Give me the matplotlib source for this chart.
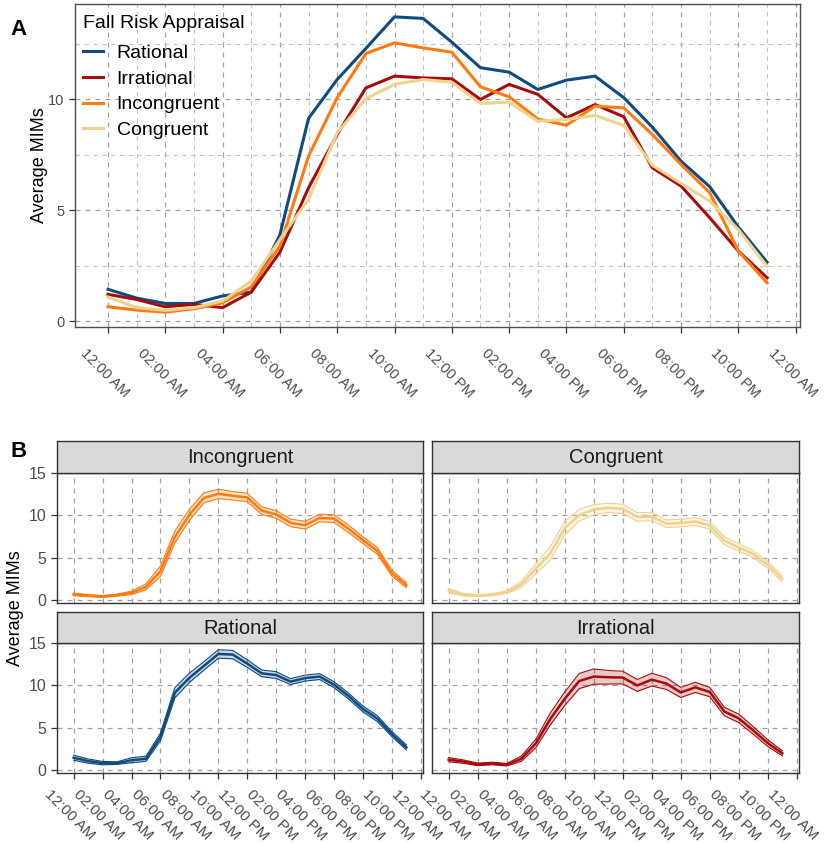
import matplotlib
matplotlib.use("Agg")
import matplotlib.pyplot as plt
from matplotlib.transforms import ScaledTranslation

plt.rcParams['font.family'] = ['Liberation Sans', 'DejaVu Sans']

# hourly averages (hour of day 0..23)
hours = list(range(24))
tick_hours = list(range(0, 25, 2))
tick_labels = ["12:00 AM", "02:00 AM", "04:00 AM", "06:00 AM", "08:00 AM", "10:00 AM",
               "12:00 PM", "02:00 PM", "04:00 PM", "06:00 PM", "08:00 PM", "10:00 PM", "12:00 AM"]

groups = ["Rational", "Irrational", "Incongruent", "Congruent"]
colors = {"Rational": "#0F4A80", "Irrational": "#A50D0D",
          "Incongruent": "#FF7A10", "Congruent": "#F0D28F"}

rational = [1.45, 1.05, 0.81, 0.81, 1.15, 1.32, 3.9, 9.15, 10.9, 12.3, 13.72, 13.65,
            12.58, 11.43, 11.23, 10.45, 10.87, 11.05, 10.08, 8.75, 7.22, 6.07, 4.25, 2.67]
irrational = [1.22, 0.99, 0.66, 0.77, 0.62, 1.32, 3.12, 6.02, 8.42, 10.52, 11.05, 10.97,
              10.93, 10.0, 10.68, 10.23, 9.17, 9.77, 9.22, 6.92, 6.1, 4.67, 3.17, 1.97]
incongruent = [0.66, 0.51, 0.42, 0.57, 0.84, 1.56, 3.39, 7.45, 10.08, 12.07, 12.55, 12.32,
               12.13, 10.57, 10.12, 9.12, 8.84, 9.7, 9.62, 8.42, 7.07, 5.8, 3.17, 1.74]
congruent = [1.1, 0.62, 0.5, 0.62, 0.92, 1.82, 3.69, 5.5, 8.5, 10.03, 10.68, 10.9,
             10.78, 9.82, 9.88, 9.02, 9.1, 9.28, 8.83, 7.03, 6.22, 5.42, 4.14, 2.49]

# half width of the confidence band (panel B)
rational_ci = [0.3, 0.25, 0.2, 0.15, 0.3, 0.3, 0.45, 0.6, 0.55, 0.5, 0.5, 0.5,
               0.45, 0.4, 0.4, 0.35, 0.35, 0.35, 0.35, 0.35, 0.35, 0.35, 0.3, 0.3]
irrational_ci = [0.25, 0.2, 0.15, 0.15, 0.15, 0.3, 0.5, 0.7, 0.8, 0.9, 0.9, 0.8,
                 0.75, 0.7, 0.75, 0.7, 0.6, 0.6, 0.55, 0.5, 0.5, 0.45, 0.4, 0.3]
incongruent_ci = [0.15, 0.12, 0.1, 0.12, 0.2, 0.35, 0.6, 0.7, 0.65, 0.6, 0.55, 0.5,
                  0.5, 0.45, 0.45, 0.45, 0.45, 0.45, 0.45, 0.45, 0.4, 0.4, 0.35, 0.3]
congruent_ci = [0.25, 0.15, 0.12, 0.12, 0.15, 0.35, 0.6, 0.8, 0.8, 0.7, 0.6, 0.55,
                0.55, 0.5, 0.5, 0.45, 0.45, 0.45, 0.45, 0.45, 0.45, 0.4, 0.4, 0.35]

means = {"Rational": rational, "Irrational": irrational,
         "Incongruent": incongruent, "Congruent": congruent}
cis = {"Rational": rational_ci, "Irrational": irrational_ci,
       "Incongruent": incongruent_ci, "Congruent": congruent_ci}

W, H = 830, 843
fig = plt.figure(figsize=(W / 100, H / 100), dpi=100)


def box(x0, y0, x1, y1):
    return [x0 / W, 1 - y1 / H, (x1 - x0) / W, (y1 - y0) / H]


dash = (0, (4, 4))
major_grid = dict(color="#A0A0A0", linewidth=0.9, linestyle=dash)
minor_grid = dict(color="#C4C4C4", linewidth=0.8, linestyle=dash)


def style_axes(ax, minor=True):
    ax.set_xlim(-1.15, 24.15)
    ax.set_axisbelow(True)
    for s in ax.spines.values():
        s.set_color("#4D4D4D")
        s.set_linewidth(1.0)
    ax.set_xticks(tick_hours)
    ax.grid(True, which="major", **major_grid)
    if minor:
        ax.set_xticks(range(1, 24, 2), minor=True)
        ax.grid(True, which="minor", **minor_grid)
        ax.tick_params(which="minor", length=0)
    ax.tick_params(axis="both", which="major", colors="#333333", labelcolor="#4D4D4D",
                   length=4, width=0.9)


def shift_labels(ax, dx):
    off = ScaledTranslation(dx / 100, 0, fig.dpi_scale_trans)
    for lab in ax.get_xticklabels():
        lab.set_transform(lab.get_transform() + off)


# ---------- Panel A ----------
axA = fig.add_axes(box(75, 4, 800, 327))
style_axes(axA)
axA.set_ylim(-0.25, 14.3)
axA.set_yticks([0, 5, 10])
axA.set_yticks([2.5, 7.5, 12.5], minor=True)
for g in groups:
    axA.plot(hours, means[g], color=colors[g], lw=2.2, label=g)
axA.set_xticklabels(tick_labels, rotation=-45, ha="center", va="top", fontsize=10.5)
axA.tick_params(axis="x", pad=10)
axA.tick_params(axis="y", labelsize=10.5)
shift_labels(axA, -3)
axA.set_ylabel("Average MIMs", fontsize=13, labelpad=0)
leg = axA.legend(title="Fall Risk Appraisal", loc="upper left",
                 bbox_to_anchor=(-2 / 725, 1 - 1 / 323),
                 frameon=False, fontsize=14, title_fontsize=14, handlelength=1.05,
                 handletextpad=0.7, labelspacing=0.42, borderpad=0.0, alignment="left")
leg._legend_box.sep = 9
fig.text(10 / W, 1 - 35 / H, "A", fontsize=16, fontweight="bold")

# ---------- Panel B ----------
facets = [("Incongruent", 57, 423, 441, 473, 603),
          ("Congruent", 432, 799, 441, 473, 603),
          ("Rational", 57, 423, 612, 643, 773),
          ("Irrational", 432, 799, 612, 643, 773)]

for i, (g, x0, x1, ys, yp, yb) in enumerate(facets):
    ax = fig.add_axes(box(x0, yp, x1, yb))
    style_axes(ax, minor=False)
    ax.set_ylim(-0.36, 15.02)
    ax.set_yticks([0, 5, 10, 15])
    m = means[g]
    lo = [a - b for a, b in zip(m, cis[g])]
    hi = [a + b for a, b in zip(m, cis[g])]
    ax.fill_between(hours, lo, hi, color=colors[g], alpha=0.22, lw=0)
    ax.plot(hours, lo, color=colors[g], lw=0.8)
    ax.plot(hours, hi, color=colors[g], lw=0.8)
    ax.plot(hours, m, color=colors[g], lw=1.8)
    if i >= 2:
        ax.set_xticklabels(tick_labels, rotation=-45, ha="center", va="top", fontsize=11)
        ax.tick_params(axis="x", pad=6)
        shift_labels(ax, -4)
    else:
        ax.tick_params(axis="x", length=0, labelbottom=False)
    if i % 2 == 0:
        ax.tick_params(axis="y", labelsize=11.5)
    else:
        ax.tick_params(axis="y", length=0, labelleft=False)
    for s in ax.spines.values():
        s.set_color("#333333")

    sax = fig.add_axes(box(x0, ys, x1, yp))
    sax.set_facecolor("#D9D9D9")
    sax.set_xticks([])
    sax.set_yticks([])
    for s in sax.spines.values():
        s.set_color("#333333")
        s.set_linewidth(1.0)
    sax.text(0.5, 0.48, g, ha="center", va="center", fontsize=14.5, color="#1A1A1A",
             transform=sax.transAxes)

fig.text(15 / W, 1 - 608 / H, "Average MIMs", rotation=90, ha="center", va="center",
         fontsize=13)
fig.text(10 / W, 1 - 457 / H, "B", fontsize=16, fontweight="bold")

fig.savefig("out.png", dpi=100)
